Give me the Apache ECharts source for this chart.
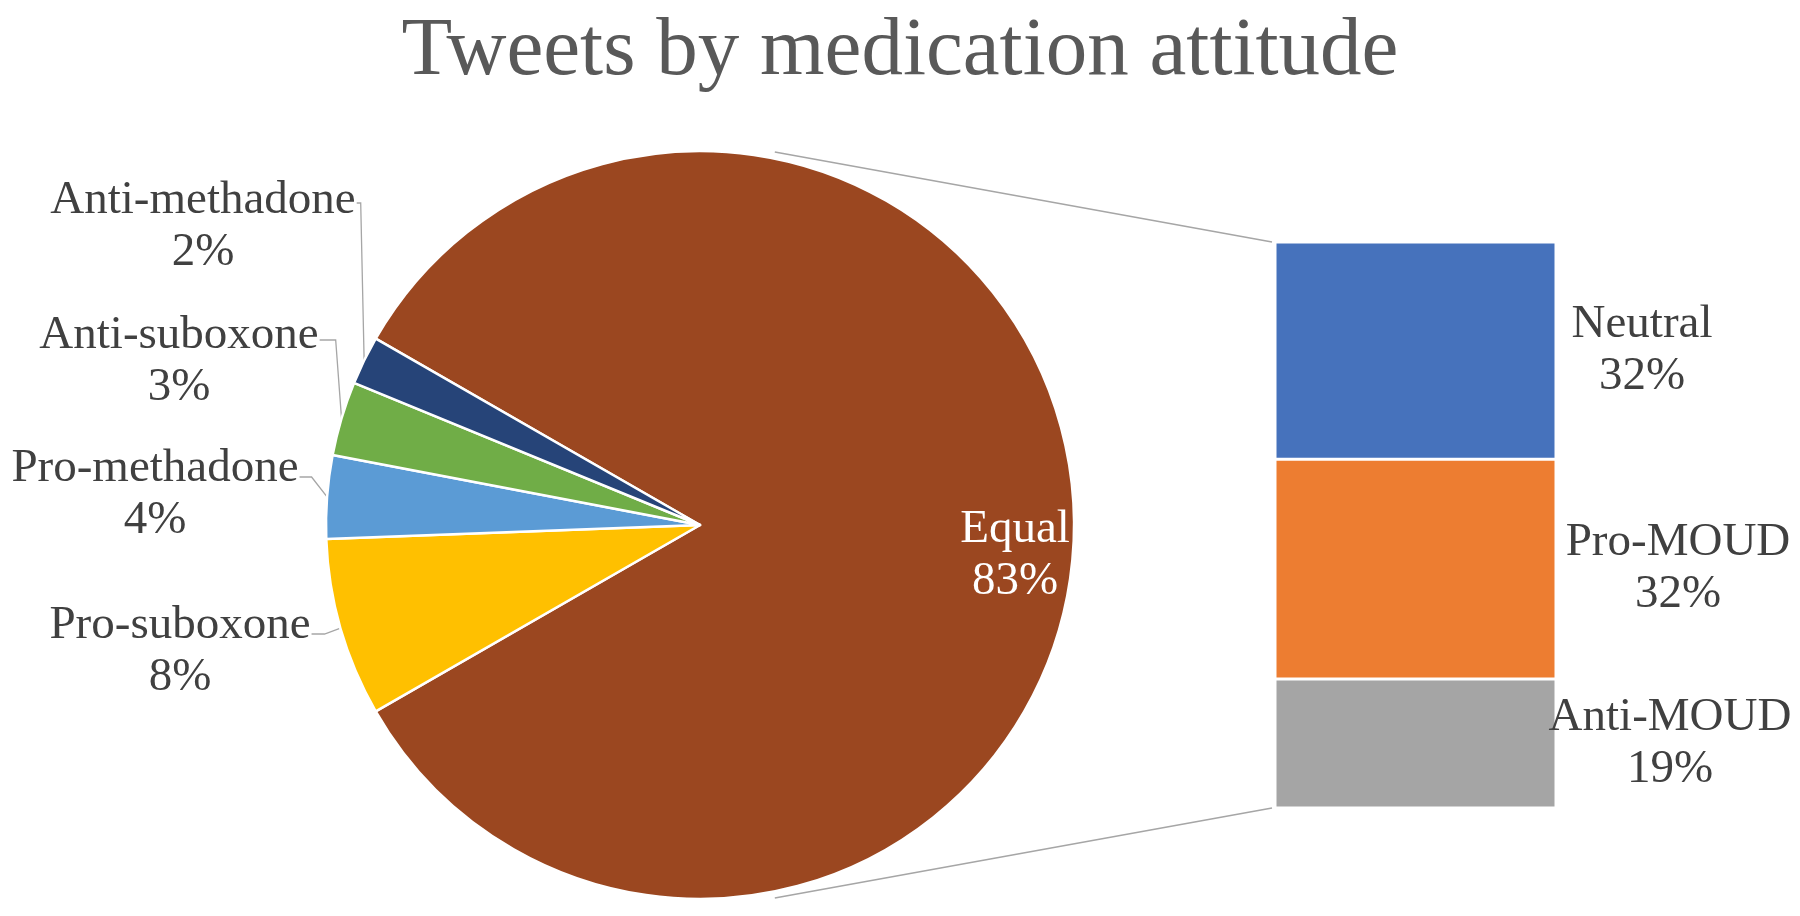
<!DOCTYPE html>
<html>
<head>
<meta charset="utf-8">
<style>
  html, body { margin: 0; padding: 0; background: #ffffff; }
  #chart { width: 1800px; height: 916px; }
</style>
<script src="https://cdn.jsdelivr.net/npm/echarts@6/dist/echarts.min.js"></script>
</head>
<body>
<div id="chart"></div>
<script>
// ---- data ----
const titleText = 'Tweets by medication attitude';
const pieNames = ['Equal', 'Pro-suboxone', 'Pro-methadone', 'Anti-suboxone', 'Anti-methadone'];
const pieValues = [83.4, 7.7, 3.6, 3.2, 2.1];
const pieColors = ['#9B4720', '#FFC000', '#5B9BD5', '#70AD47', '#264478'];
const barNames = ['Neutral', 'Pro-MOUD', 'Anti-MOUD'];
const barValues = [32.0, 32.4, 19.0];
const barColors = ['#4672BC', '#ED7D31', '#A5A5A5'];

// ---- layout ----
const FONT = "'Liberation Serif', 'Times New Roman', serif";
const TEXT_COLOR = '#404040';
const cx = 700, cy = 525, R = 374;
const gridLeft = 1275, gridTop = 242, gridWidth = 281, gridHeight = 566;
const labelSize = 47, labelLH = 52;
// label centres (Equal, Pro-sub, Pro-meth, Anti-sub, Anti-meth)
const pieLabelPos = [[1015, 556], [180, 652], [155, 495], [179, 362], [203, 227]];
const bendDx = [0, 13, 12, 16, 4];
const bendDy = [0, 8, 8, 4, 2];
const barLabelOffset = [81, 117, 109];

const total = pieValues[0];
const smallShare = pieValues.slice(1).reduce((a, b) => a + b, 0) / pieValues.reduce((a, b) => a + b, 0);
const startAngle = 180 - smallShare * 360 / 2;

const chart = echarts.init(document.getElementById('chart'), null, { renderer: 'canvas' });

const pieData = pieNames.map((n, i) => ({
  name: n,
  value: pieValues[i],
  itemStyle: { color: pieColors[i] },
  label: i === 0 ? { color: '#ffffff' } : {},
  labelLine: { show: i !== 0 }
}));

const barSeries = barNames.map((n, i) => ({
  type: 'bar',
  name: n,
  stack: 'other',
  barWidth: '100%',
  data: [barValues[i]],
  itemStyle: { color: barColors[i], borderColor: '#ffffff', borderWidth: 1.5 },
  label: {
    show: true,
    position: 'right',
    align: 'center',
    offset: [barLabelOffset[i], 0],
    fontFamily: FONT,
    fontSize: labelSize,
    lineHeight: labelLH,
    color: TEXT_COLOR,
    formatter: (p) => p.seriesName + '\n' + Math.round(p.value) + '%'
  },
  emphasis: { disabled: true },
  silent: true
}));

const option = {
  backgroundColor: '#ffffff',
  animation: false,
  title: {
    text: titleText,
    left: 'center',
    top: 6,
    padding: [5, 17, 5, 5],
    textStyle: { fontFamily: FONT, fontSize: 83, fontWeight: 'normal', color: '#595959' }
  },
  grid: { left: gridLeft, top: gridTop, width: gridWidth, height: gridHeight },
  xAxis: { type: 'category', data: ['Equal'], show: false },
  yAxis: { type: 'value', min: 0, max: total, inverse: true, show: false },
  series: [
    {
      type: 'pie',
      center: [cx, cy],
      radius: R,
      startAngle: startAngle,
      clockwise: true,
      avoidLabelOverlap: false,
      silent: true,
      emphasis: { disabled: true },
      itemStyle: { borderColor: '#ffffff', borderWidth: 2.5 },
      label: {
        show: true,
        position: 'outside',
        fontFamily: FONT,
        fontSize: labelSize,
        lineHeight: labelLH,
        color: TEXT_COLOR,
        align: 'center',
        formatter: (p) => p.name + '\n' + Math.round(p.value) + '%'
      },
      labelLine: { lineStyle: { color: '#A6A6A6', width: 1.3 } },
      labelLayout: function (params) {
        const i = params.dataIndex;
        const pos = pieLabelPos[i];
        const res = { x: pos[0], y: pos[1], align: 'center', verticalAlign: 'middle' };
        if (i > 0 && params.labelLinePoints) {
          const w = params.labelRect.width;
          const rightX = pos[0] + w / 2 + 1;
          const firstY = pos[1] - labelLH / 2 + bendDy[i];
          const p0 = params.labelLinePoints[0];
          res.labelLinePoints = [[p0[0], p0[1]], [rightX + bendDx[i], firstY], [rightX, firstY]];
        }
        return res;
      },
      data: pieData
    }
  ].concat(barSeries),
  graphic: [
    {
      type: 'line', silent: true,
      shape: { x1: cx + 0.2 * R, y1: cy - R + 1, x2: gridLeft - 3, y2: gridTop },
      style: { stroke: '#A6A6A6', lineWidth: 1.5 }
    },
    {
      type: 'line', silent: true,
      shape: { x1: cx + 0.2 * R, y1: cy + R - 1, x2: gridLeft - 3, y2: gridTop + gridHeight },
      style: { stroke: '#A6A6A6', lineWidth: 1.5 }
    }
  ]
};

chart.setOption(option);
</script>
</body>
</html>
